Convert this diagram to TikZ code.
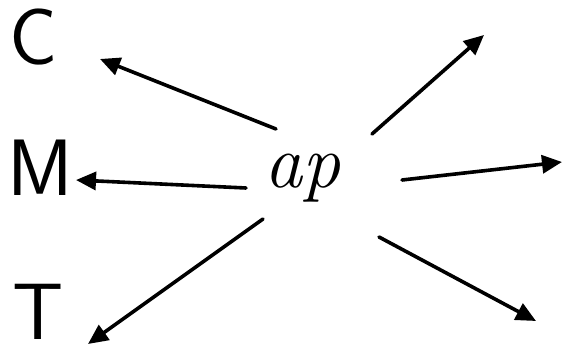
\documentclass[tikz,border=0pt]{standalone}
\usepackage{fontspec}
\usetikzlibrary{arrows.meta}
\begin{document}
\begin{tikzpicture}[x=1pt,y=-1pt,
  letter/.style={font=\fontsize{80}{80}\selectfont\sffamily, inner sep=0pt, anchor=base},
  arr/.style={line width=3.6pt, line cap=round, -{Triangle[length=20pt,width=18pt]}}]
\useasboundingbox[fill=white] (0,0) rectangle (563,358);
\node[letter] (C) at (34,65) {C};
\node[letter] (M) at (40,196) {M};
\node[letter] (T) at (38,340) {T};
\node[inner sep=0pt, font=\fontsize{76}{76}\selectfont\itshape] (ap) at (302,178) {ap};
\coordinate (s1) at (276,129);
\coordinate (s2) at (246,188);
\coordinate (s3) at (263,219);
\coordinate (s4) at (372,134);
\coordinate (s5) at (402,180);
\coordinate (s6) at (379,237);
\coordinate (tC) at (100,59);
\coordinate (tM) at (76,180);
\coordinate (tT) at (88,344);
\coordinate (e1) at (484,35);
\coordinate (e2) at (562,162);
\coordinate (e3) at (536,321);
\draw[arr] (s1) -- (tC);
\draw[arr] (s2) -- (tM);
\draw[arr] (s3) -- (tT);
\draw[arr] (s4) -- (e1);
\draw[arr] (s5) -- (e2);
\draw[arr] (s6) -- (e3);
\end{tikzpicture}
\end{document}
